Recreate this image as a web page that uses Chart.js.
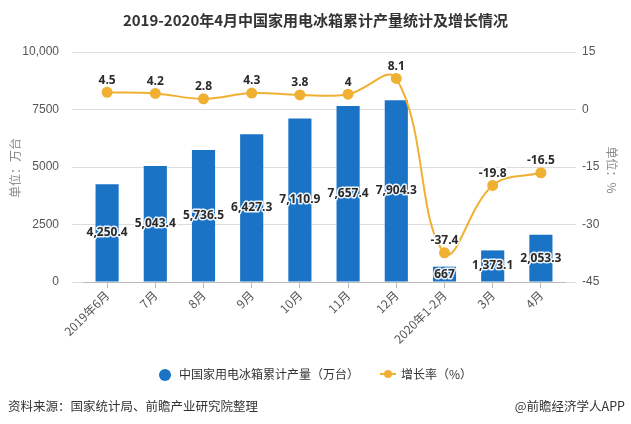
<!DOCTYPE html>
<html>
<head>
<meta charset="utf-8">
<script src="https://cdn.jsdelivr.net/npm/chart.js@4/dist/chart.umd.min.js"></script>
<style>
  body { margin: 0; background: #fff; font-family: "Noto Sans CJK SC", "Noto Sans", sans-serif; }
  #wrap { position: relative; width: 631px; height: 424px; overflow: hidden; }
  #title { position: absolute; top: 9px; left: 0; width: 631px; text-align: center; font-size: 15px; font-weight: bold; color: #333; }
  .lg { position: absolute; top: 365px; font-size: 12px; color: #333; white-space: nowrap; }
  .foot { position: absolute; top: 396px; font-size: 12.5px; color: #333; white-space: nowrap; }
  .ytitle { position: absolute; width: 100px; height: 16px; line-height: 16px; text-align: center; font-size: 12px; color: #888; white-space: nowrap; }
</style>
</head>
<body>
<div id="wrap">
  <canvas id="chart" width="631" height="424"></canvas>
  <div id="title">2019-2020年4月中国家用电冰箱累计产量统计及增长情况</div>
  <div class="ytitle" style="left:-35px;top:160px;transform:rotate(-90deg);">单位：万台</div>
  <div class="ytitle" style="left:562px;top:162px;transform:rotate(90deg);">单位：%</div>
  <div class="lg" style="left:159px;"><span style="display:inline-block;width:12px;height:12px;border-radius:6px;background:#1a73c4;vertical-align:-2px;margin-right:8px;"></span>中国家用电冰箱累计产量（万台）</div>
  <div class="lg" style="left:380px;"><span style="display:inline-block;position:relative;width:16px;height:2px;background:#f0b032;vertical-align:4px;margin-right:5px;"><span style="position:absolute;left:4px;top:-3px;width:8px;height:8px;border-radius:4px;background:#f0b032;"></span></span>增长率（%）</div>
  <div class="foot" style="left:8px;">资料来源：国家统计局、前瞻产业研究院整理</div>
  <div class="foot" style="right:6px;">@前瞻经济学人APP</div>
</div>
<script>
let labels = ["2019年6月", "7月", "8月", "9月", "10月", "11月", "12月", "2020年1-2月", "3月", "4月"];
let chanliang = [4250.4, 5043.4, 5736.5, 6427.3, 7110.9, 7657.4, 7904.3, 667, 1373.1, 2053.3];
let zengzhang = [4.5, 4.2, 2.8, 4.3, 3.8, 4, 8.1, -37.4, -19.8, -16.5];
let leftTicks = [0, 2500, 5000, 7500, 10000];
let rightTicks = [-45, -30, -15, 0, 15];

function fmt(v) {
    return v.toLocaleString("en-US", { maximumFractionDigits: 1 });
}

// labels on bars and points
let labelPlugin = {
    id: "labelPlugin",
    afterDatasetsDraw(chart) {
        let ctx = chart.ctx;
        ctx.save();
        ctx.font = "bold 12px 'Open Sans', sans-serif";
        ctx.textAlign = "center";
        ctx.textBaseline = "middle";
        ctx.lineJoin = "round";
        // dataset 1 = bars
        chart.getDatasetMeta(1).data.forEach(function (bar, i) {
            let y = (bar.y + bar.base) / 2;
            let t = fmt(chanliang[i]);
            ctx.strokeStyle = "rgba(255,255,255,0.9)";
            ctx.lineWidth = 3;
            ctx.strokeText(t, bar.x, y);
            ctx.fillStyle = "#2a2a2a";
            ctx.fillText(t, bar.x, y);
        });
        // dataset 0 = line
        chart.getDatasetMeta(0).data.forEach(function (pt, i) {
            let t = String(zengzhang[i]);
            ctx.strokeStyle = "rgba(255,255,255,0.9)";
            ctx.lineWidth = 3;
            ctx.strokeText(t, pt.x, pt.y - 12);
            ctx.fillStyle = "#2a2a2a";
            ctx.fillText(t, pt.x, pt.y - 12);
        });
        ctx.restore();
    }
};

let ctx = document.getElementById("chart").getContext("2d");
new Chart(ctx, {
    data: {
        labels: labels,
        datasets: [{
            type: "line",
            label: "增长率（%）",
            data: zengzhang,
            yAxisID: "y1",
            borderColor: "#f0b032",
            backgroundColor: "#f0b032",
            borderWidth: 2,
            pointRadius: 4.5,
            pointHoverRadius: 4.5,
            tension: 0.4,
            fill: false,
            order: 0
        }, {
            type: "bar",
            label: "中国家用电冰箱累计产量（万台）",
            data: chanliang,
            yAxisID: "y",
            backgroundColor: "#1a73c4",
            categoryPercentage: 1,
            barPercentage: 0.48,
            order: 1
        }]
    },
    options: {
        responsive: false,
        animation: false,
        layout: { padding: { top: 52, bottom: 80, left: 0, right: 0 } },
        plugins: { legend: { display: false }, title: { display: false }, tooltip: { enabled: false } },
        scales: {
            x: {
                offset: true,
                grid: { offset: false, drawOnChartArea: false, tickLength: 6, color: "#bbb" },
                border: { color: "#bbb" },
                ticks: { minRotation: 45, maxRotation: 45, color: "#555", font: { size: 12, family: "'Noto Sans CJK SC'" }, padding: 0 },
                afterFit(s) { s.height = 62; }
            },
            y: {
                position: "left",
                min: 0, max: 10000,
                afterBuildTicks(s) { s.ticks = leftTicks.map(v => ({ value: v })); },
                grid: { color: "#ddd", tickLength: 11 },
                border: { display: false },
                ticks: {
                    padding: 13, color: "#555", font: { size: 12 },
                    callback: v => v === 10000 ? "10,000" : String(v)
                },
                afterFit(s) { s.width = 83; }
            },
            y1: {
                position: "right",
                min: -45, max: 15,
                afterBuildTicks(s) { s.ticks = rightTicks.map(v => ({ value: v })); },
                grid: { drawOnChartArea: false, color: "#ddd", tickLength: 11 },
                border: { display: false },
                ticks: { padding: 6, color: "#555", font: { size: 12 } },
                afterFit(s) { s.width = 66; }
            }
        }
    },
    plugins: [labelPlugin]
});
</script>
</body>
</html>
